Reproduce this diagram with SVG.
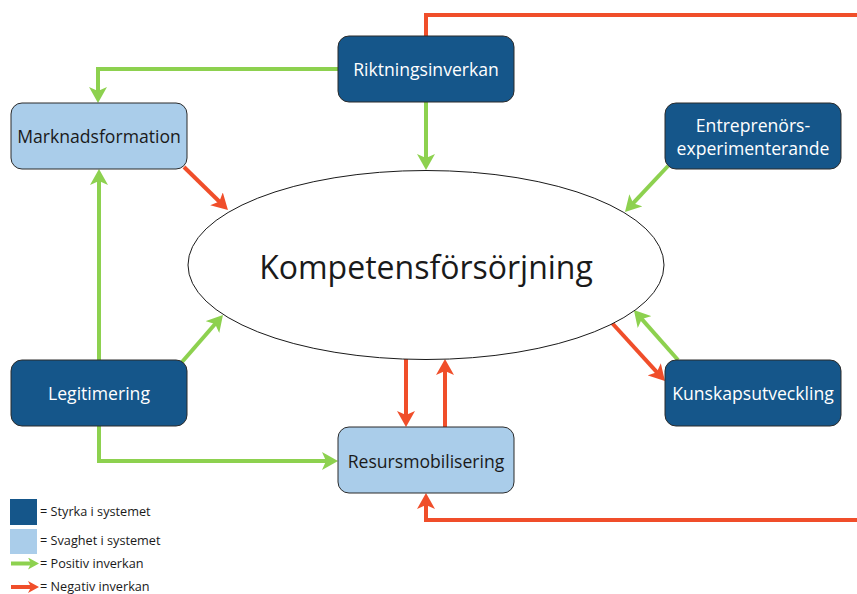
<svg xmlns="http://www.w3.org/2000/svg" width="857" height="594" viewBox="0 0 857 594">
<style>
.box{stroke:#2b2b2b;stroke-width:1}
.strong{fill:#15568A}
.weak{fill:#AACDEA}
.lbl{font-family:"Open Sans","Liberation Sans",sans-serif;font-size:17.6px;text-anchor:middle;dominant-baseline:central}
.lw{fill:#ffffff}
.lb{fill:#1a1a1a}
.pos{fill:none;stroke:#8DD14F;stroke-width:4}
.neg{fill:none;stroke:#F04E2A;stroke-width:4}
.leg{font-family:"Open Sans","Liberation Sans",sans-serif;font-size:12.7px;fill:#1a1a1a}
</style>
<defs>
<marker id="ag" markerUnits="userSpaceOnUse" viewBox="0 0 16 18" markerWidth="16" markerHeight="18" refX="6" refY="9" orient="auto">
<path d="M0,0 L16,9 L0,18 L4,9 z" fill="#8DD14F"/>
</marker>
<marker id="ar" markerUnits="userSpaceOnUse" viewBox="0 0 16 18" markerWidth="16" markerHeight="18" refX="6" refY="9" orient="auto">
<path d="M0,0 L16,9 L0,18 L4,9 z" fill="#F04E2A"/>
</marker>
<marker id="agS" markerUnits="userSpaceOnUse" viewBox="0 0 11 12" markerWidth="11" markerHeight="12" refX="4" refY="6" orient="auto">
<path d="M0,0 L11,6 L0,12 L3,6 z" fill="#8DD14F"/>
</marker>
<marker id="arS" markerUnits="userSpaceOnUse" viewBox="0 0 11 12" markerWidth="11" markerHeight="12" refX="4" refY="6" orient="auto">
<path d="M0,0 L11,6 L0,12 L3,6 z" fill="#F04E2A"/>
</marker>
</defs>

<g id="connectors">
<path class="neg" d="M426,36 V15 H857"/>
<path class="neg" d="M857,520 H426 V503" marker-end="url(#ar)"/>
<path class="pos" d="M338,69 H98 V93" marker-end="url(#ag)"/>
<path class="pos" d="M426,102 V160" marker-end="url(#ag)"/>
<path class="neg" d="M184,167 L220.8,203" marker-end="url(#ar)"/>
<path class="pos" d="M668,166 L631.8,204.7" marker-end="url(#ag)"/>
<path class="pos" d="M99,360 V179" marker-end="url(#ag)"/>
<path class="pos" d="M182,362 L216.4,322.5" marker-end="url(#ag)"/>
<path class="pos" d="M99,426 V461 H328" marker-end="url(#ag)"/>
<path class="neg" d="M406,359 V417" marker-end="url(#ar)"/>
<path class="neg" d="M445,427 V369" marker-end="url(#ar)"/>
<path class="neg" d="M612,323 L658.2,373.7" marker-end="url(#ar)"/>
<path class="pos" d="M678,360 L640.5,317.6" marker-end="url(#ag)"/>
</g>

<g id="kompetensforsorjning">
<ellipse cx="426" cy="265" rx="238" ry="94.5" fill="#ffffff" stroke="#1a1a1a" stroke-width="1"/>
<text x="426" y="266" font-family="'Open Sans','Liberation Sans',sans-serif" font-size="32" text-anchor="middle" dominant-baseline="central" fill="#1a1a1a">Kompetensförsörjning</text>
</g>

<g id="riktningsinverkan">
<rect class="box strong" x="338" y="36" width="176" height="66" rx="11"/>
<text class="lbl lw" x="426" y="69">Riktningsinverkan</text>
</g>

<g id="marknadsformation">
<rect class="box weak" x="11" y="103" width="176" height="66" rx="11"/>
<text class="lbl lb" x="99" y="136">Marknadsformation</text>
</g>

<g id="entreprenorsexperimenterande">
<rect class="box strong" x="665" y="103" width="176" height="66" rx="11"/>
<text class="lbl lw" x="753" y="125">Entreprenörs-</text>
<text class="lbl lw" x="753" y="148">experimenterande</text>
</g>

<g id="legitimering">
<rect class="box strong" x="11" y="360" width="176" height="66" rx="11"/>
<text class="lbl lw" x="99" y="393">Legitimering</text>
</g>

<g id="kunskapsutveckling">
<rect class="box strong" x="665" y="360" width="176" height="66" rx="11"/>
<text class="lbl lw" x="753" y="393">Kunskapsutveckling</text>
</g>

<g id="resursmobilisering">
<rect class="box weak" x="338" y="427" width="176" height="66" rx="11"/>
<text class="lbl lb" x="426" y="461">Resursmobilisering</text>
</g>

<g id="legend">
<rect x="10" y="499" width="27" height="26" fill="#15568A"/>
<text class="leg" x="40" y="516">= Styrka i systemet</text>
<rect x="10" y="529" width="27" height="25" fill="#AACDEA"/>
<text class="leg" x="40" y="545">= Svaghet i systemet</text>
<path class="pos" d="M11,563.5 H32" marker-end="url(#agS)"/>
<text class="leg" x="40" y="568">= Positiv inverkan</text>
<path class="neg" d="M11,587 H32" marker-end="url(#arS)"/>
<text class="leg" x="40" y="591">= Negativ inverkan</text>
</g>
</svg>
